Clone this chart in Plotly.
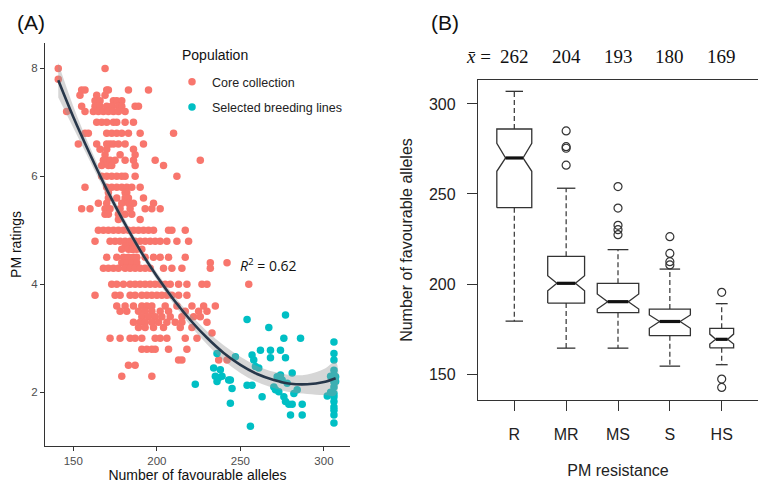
import plotly.graph_objects as go

# ---------- panel A: PM ratings vs number of favourable alleles ----------
# core collection, read row by row (rating level -> alleles at that level)
core_levels = [8.0, 7.8, 7.6, 7.5, 7.4, 7.3, 7.2, 7.0, 6.8, 6.6, 6.5, 6.4, 6.3, 6.2,
               6.0, 5.8, 5.7, 5.6, 5.5, 5.4, 5.3, 5.2, 5.0, 4.8, 4.7, 4.65, 4.5, 4.4,
               4.3, 4.0, 3.8, 3.6, 3.5, 3.4, 3.3, 3.2, 3.1, 3.0, 2.8, 2.6, 2.5, 2.3]
core_alleles = [
    [141, 169],
    [141],
    [155, 157, 170, 171, 183, 195],
    [154, 164, 169],
    [163, 166, 174, 176, 179],
    [155, 163, 166, 170, 173, 177, 179, 187, 189],
    [146, 157, 162, 165, 168, 171, 174, 177, 181],
    [164, 167, 170, 174, 176, 181, 186],
    [157, 159, 170, 173, 176, 179, 183, 190, 210],
    [153, 164, 170, 172, 174, 177, 181, 192],
    [166, 170, 186],
    [169, 178, 187],
    [168, 170, 172, 175, 181, 186, 199, 226],
    [167, 171, 173, 187, 204],
    [167, 170, 173, 176, 179, 181, 187, 212],
    [157, 170, 173, 176, 179, 182, 185, 190],
    [171, 181, 182],
    [171, 176, 181, 183, 192],
    [165, 170, 179, 183, 186, 198],
    [155, 160, 169, 172, 178, 184, 193, 197, 202],
    [169, 171, 177, 181, 185],
    [177, 190],
    [165, 168, 171, 174, 177, 180, 183, 186, 189, 192, 195, 198, 207, 209, 217],
    [163, 172, 175, 178, 181, 184, 187, 190, 193, 196, 199, 202, 206, 212, 219],
    [181, 183, 185, 187],
    [179, 183, 185, 186, 188, 191],
    [170, 176, 180, 183, 186, 188, 193, 198, 202, 207, 217],
    [179, 182, 185, 188, 232, 242],
    [168, 171, 174, 177, 181, 184, 187, 190, 193, 196, 204, 209, 215, 232],
    [173, 176, 180, 184, 187, 190, 193, 196, 199, 202, 205, 208, 213, 218, 227, 230, 255],
    [163, 175, 178, 184, 187, 191, 194, 197, 200, 203, 206, 209, 213, 218],
    [176, 181, 186, 191, 194, 197, 205, 212, 221, 228, 235],
    [178, 182, 189, 193, 197, 202, 207, 217, 225, 230],
    [191, 195, 199, 203, 208, 215, 222, 226],
    [186, 190, 193, 197, 201, 206, 211, 215, 230],
    [189, 193, 198, 204, 214, 221],
    [233],
    [172, 178, 184, 187, 191, 199, 202, 206, 217, 224],
    [191, 194, 197, 199, 207, 218],
    [213, 215, 237, 242],
    [183, 187],
    [179, 197],
]

breeding_alleles = [254, 267, 277, 276, 286, 306, 262, 268, 274, 268, 277, 257, 258, 259, 261,
                    247, 236, 234, 235, 237, 239, 244, 245, 244, 254, 257, 256, 263, 272, 274,
                    275, 278, 270, 271, 273, 276, 277, 279, 281, 280, 287, 287, 282, 284, 281,
                    306, 306, 306, 306, 306, 306, 306, 306, 306, 306, 306, 306, 306, 304, 307,
                    304, 307, 302, 223, 238, 236, 243]
breeding_ratings = [3.35, 3.2, 3.43, 3.0, 3.0, 2.93, 2.78, 2.78, 2.78, 2.64, 2.64, 2.69, 2.6, 2.48, 2.45,
                    2.66, 2.72, 2.45, 2.3, 2.27, 2.3, 2.23, 2.07, 1.8, 2.13, 2.13, 1.37, 1.92, 2.29, 2.32,
                    2.23, 2.17, 2.1, 2.05, 2.01, 1.92, 1.83, 1.78, 1.78, 1.58, 1.58, 1.78, 1.98, 2.05, 2.36,
                    2.72, 2.6, 2.41, 2.32, 2.19, 2.1, 1.98, 1.92, 1.83, 1.73, 1.67, 1.58, 1.43, 2.3, 2.2,
                    2.0, 2.29, 1.93, 2.15, 2.42, 2.2, 2.23]

# fitted curve and its confidence band
fit_alleles = [141, 150, 160, 170, 180, 190, 200, 210, 220, 230, 240, 250, 260, 270, 280, 290, 300, 307]
fit_rating = [7.78, 7.10, 6.41, 5.76, 5.17, 4.63, 4.15, 3.72, 3.34, 3.01, 2.73, 2.51, 2.34, 2.23, 2.16, 2.15, 2.19, 2.26]
fit_lower = [7.46, 6.90, 6.28, 5.66, 5.09, 4.56, 4.08, 3.64, 3.24, 2.89, 2.59, 2.36, 2.19, 2.08, 2.00, 1.97, 1.95, 1.95]
fit_upper = [8.10, 7.30, 6.54, 5.86, 5.25, 4.70, 4.22, 3.80, 3.44, 3.13, 2.87, 2.66, 2.49, 2.38, 2.32, 2.33, 2.43, 2.57]

# ---------- panel B: notched boxplots ----------
pm_classes = ['R', 'MR', 'MS', 'S', 'HS']
class_n = [71, 79, 100, 98, 33]
class_mean = [262, 204, 193, 180, 169]
box_q1 = [242.4, 189.4, 184.1, 171.3, 164.6]
box_median = [270.0, 200.4, 190.2, 179.2, 169.3]
box_q3 = [286.1, 215.4, 200.4, 186.1, 175.4]
notch_lo = [262.6, 196.2, 186.1, 175.4, 166.7]
notch_hi = [278.2, 204.6, 194.5, 182.8, 172.2]
whisker_lo = [179.4, 164.4, 164.4, 154.4, 155.2]
whisker_hi = [307.0, 253.2, 219.1, 208.3, 189.1]
outlier_class = ['MR', 'MR', 'MR', 'MR', 'MS', 'MS', 'MS', 'MS', 'MS',
                 'S', 'S', 'S', 'S', 'HS', 'HS', 'HS']
outlier_value = [285.0, 276.3, 275.4, 266.0, 254.1, 242.2, 232.6, 230.2, 227.4,
                 226.3, 217.0, 212.4, 210.6, 195.4, 147.2, 142.6]

core_x = [a for lvl, row in zip(core_levels, core_alleles) for a in row]
core_y = [lvl for lvl, row in zip(core_levels, core_alleles) for _ in row]

RED = '#F8766D'
TEAL = '#00BFC4'
INK = '#333333'

fig = go.Figure()

fig.add_trace(go.Scatter(x=core_x, y=core_y, mode='markers', name='Core collection',
                         legendgroup='a', marker=dict(color=RED, size=7.5),
                         xaxis='x', yaxis='y'))
fig.add_trace(go.Scatter(x=breeding_alleles, y=breeding_ratings, mode='markers',
                         name='Selected breeding lines', legendgroup='b',
                         marker=dict(color=TEAL, size=7.5), xaxis='x', yaxis='y'))
# confidence band drawn over the points, as ggplot does
fig.add_trace(go.Scatter(x=fit_alleles + fit_alleles[::-1], y=fit_upper + fit_lower[::-1],
                         fill='toself', fillcolor='rgba(153,153,153,0.4)', line=dict(width=0),
                         mode='lines', showlegend=False, hoverinfo='skip',
                         line_shape='spline', xaxis='x', yaxis='y'))
fig.add_trace(go.Scatter(x=fit_alleles, y=fit_rating, mode='lines', showlegend=False,
                         line=dict(color='#27374A', width=2.6, shape='spline'),
                         xaxis='x', yaxis='y'))

# boxplot pieces built from the stats (R style: notched, varwidth, dashed whiskers)
nmax = max(class_n)
half_w = [0.4 * (n / nmax) ** 0.5 for n in class_n]
ox, oy, mx, my, wx, wy, cx, cy = [], [], [], [], [], [], [], []
for i in range(len(pm_classes)):
    p = i + 1
    w = half_w[i]
    wn = w / 2
    ox += [p - w, p - w, p - wn, p - w, p - w, p + w, p + w, p + wn, p + w, p + w, p - w, None]
    oy += [box_q1[i], notch_lo[i], box_median[i], notch_hi[i], box_q3[i], box_q3[i],
           notch_hi[i], box_median[i], notch_lo[i], box_q1[i], box_q1[i], None]
    mx += [p - wn, p + wn, None]
    my += [box_median[i], box_median[i], None]
    wx += [p, p, None, p, p, None]
    wy += [box_q3[i], whisker_hi[i], None, box_q1[i], whisker_lo[i], None]
    cx += [p - wn, p + wn, None, p - wn, p + wn, None]
    cy += [whisker_hi[i], whisker_hi[i], None, whisker_lo[i], whisker_lo[i], None]

fig.add_trace(go.Scatter(x=wx, y=wy, mode='lines', showlegend=False,
                         line=dict(color=INK, width=1.2, dash='5px,3px'), xaxis='x2', yaxis='y2'))
fig.add_trace(go.Scatter(x=cx, y=cy, mode='lines', showlegend=False,
                         line=dict(color=INK, width=1.3), xaxis='x2', yaxis='y2'))
fig.add_trace(go.Scatter(x=ox, y=oy, mode='lines', showlegend=False,
                         line=dict(color=INK, width=1.3), xaxis='x2', yaxis='y2'))
fig.add_trace(go.Scatter(x=mx, y=my, mode='lines', showlegend=False,
                         line=dict(color='#111111', width=3.2), xaxis='x2', yaxis='y2'))
fig.add_trace(go.Scatter(x=[pm_classes.index(c) + 1 for c in outlier_class], y=outlier_value,
                         mode='markers', showlegend=False,
                         marker=dict(symbol='circle-open', size=8, color=INK, line=dict(width=1.2)),
                         xaxis='x2', yaxis='y2'))

# the page body keeps its default 8px margin, so lay out in page pixels minus that offset
OFF = 8
W, H = 766 - OFF, 488 - OFF


def px(x):
    return (x - OFF) / W


def py(y):
    return 1 - (y - OFF) / H


sans = 'Liberation Sans, Arial, sans-serif'
serif = 'Liberation Serif, Times New Roman, serif'

annotations = [
    dict(text='(A)', x=px(15), y=py(22), xref='paper', yref='paper', xanchor='left',
         yanchor='middle', showarrow=False, font=dict(family=sans, size=21, color='#111')),
    dict(text='(B)', x=px(429), y=py(22), xref='paper', yref='paper', xanchor='left',
         yanchor='middle', showarrow=False, font=dict(family=sans, size=21, color='#111')),
    # legend heading, placed by hand so the gap to the entries matches
    dict(text='Population', x=px(180), y=py(55), xref='paper', yref='paper', xanchor='left',
         yanchor='middle', showarrow=False, font=dict(family=sans, size=14, color='#111')),
    dict(text='<i>R</i><sup>2</sup> = 0.62', x=248.6, y=4.36, xref='x', yref='y',
         xanchor='left', yanchor='middle', showarrow=False,
         font=dict(family='Open Sans, Noto Sans, sans-serif', size=14, color='#111')),
    dict(text='<i>x̄</i> =', x=1, y=py(57), xref='x2', yref='paper', xanchor='right',
         yanchor='middle', xshift=-21, showarrow=False,
         font=dict(family=serif, size=19, color='#111')),
]
for i, m in enumerate(class_mean):
    annotations.append(dict(text=str(m), x=i + 1, y=py(57), xref='x2', yref='paper',
                            xanchor='center', yanchor='middle', showarrow=False,
                            font=dict(family=serif, size=19, color='#111')))

fig.update_layout(
    width=W, height=H, margin=dict(l=0, r=0, t=0, b=0),
    paper_bgcolor='white', plot_bgcolor='white',
    font=dict(family=sans),
    showlegend=True,
    legend=dict(x=px(172), y=py(67), xanchor='left', yanchor='top',
                font=dict(size=12.5, color='#222'), tracegroupgap=6,
                bgcolor='rgba(0,0,0,0)'),
    xaxis=dict(domain=[px(45), px(350)], range=[133.06, 315.6], anchor='y',
               tickvals=[150, 200, 250, 300], ticks='outside', ticklen=4, tickcolor=INK,
               showline=True, linecolor=INK, linewidth=1.1, showgrid=False, zeroline=False,
               tickfont=dict(size=11.5, color='#4D4D4D'), automargin=False,
               title=dict(text='Number of favourable alleles', standoff=4,
                          font=dict(size=14, color='#111'))),
    yaxis=dict(domain=[py(446), py(43)], range=[1.006, 8.47], anchor='x',
               tickvals=[2, 4, 6, 8], ticks='outside', ticklen=4, tickcolor=INK,
               showline=True, linecolor=INK, linewidth=1.1, showgrid=False, zeroline=False,
               tickfont=dict(size=11.5, color='#4D4D4D'), automargin=False,
               title=dict(text='PM ratings', standoff=6, font=dict(size=14, color='#111'))),
    xaxis2=dict(domain=[px(478), px(758)], range=[0.3, 5.7], anchor='y2',
                tickvals=[1, 2, 3, 4, 5], ticktext=pm_classes, ticks='outside', ticklen=10,
                tickcolor=INK, showline=True, mirror=True, linecolor=INK, linewidth=1.3,
                showgrid=False, zeroline=False, ticklabelstandoff=10,
                tickfont=dict(size=16, color='#222'), automargin=False,
                title=dict(text='PM resistance', standoff=22, font=dict(size=16, color='#222'))),
    yaxis2=dict(domain=[py(400), py(80)], range=[135.6, 313.3], anchor='x2',
                tickvals=[150, 200, 250, 300], ticks='outside', ticklen=10,
                tickcolor=INK, showline=True, mirror=True, linecolor=INK, linewidth=1.3,
                showgrid=False, zeroline=False, ticklabelstandoff=8,
                tickfont=dict(size=16, color='#222'), automargin=False,
                title=dict(text='Number of favourable alleles', standoff=12,
                           font=dict(size=16, color='#222'))),
    annotations=annotations,
)

fig.write_html('out.html')
